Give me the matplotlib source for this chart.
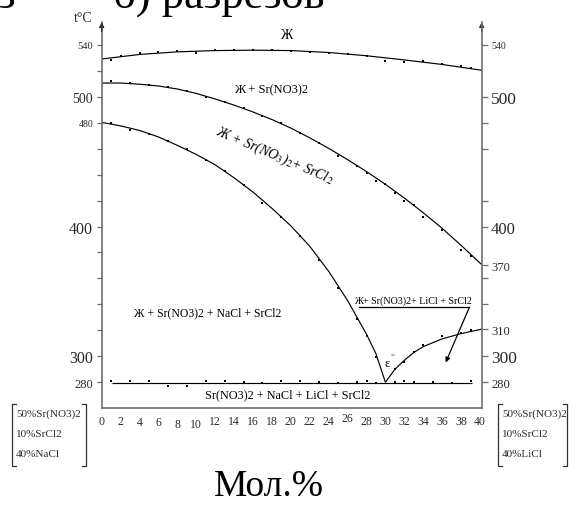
import matplotlib
matplotlib.use('Agg')
import matplotlib.pyplot as plt
from matplotlib.lines import Line2D

plt.rcParams['font.family'] = ['Liberation Serif', 'DejaVu Serif']
plt.rcParams['mathtext.fontset'] = 'stix'

# ---------------- data ----------------
# liquidus "Ж" (upper curve): drawn line nodes and measured points
liq_x = [0, 4, 8, 12, 16, 20, 24, 28, 32, 36, 40.2]
liq_T = [529, 532.5, 534.5, 535.5, 535.8, 535.5, 534, 531.5, 528.3, 524.8, 520.3]
liq_pts_x = [1, 2, 4, 6, 8, 10, 12, 14, 16, 18, 20, 22, 24, 26, 28, 30, 32, 34, 36, 38, 39]
liq_pts_T = [528.4, 531.5, 533.4, 534.6, 535.4, 533.4, 536.1, 536.1, 536.1, 536.1, 535.4,
             534.6, 533.8, 533.1, 531.5, 527.7, 526.4, 527.2, 525.4, 523.4, 522.1]

# Ж + Sr(NO3)2 boundary
c2_x = [0, 2, 4, 6, 8, 10, 12, 14, 16, 18, 20, 22, 24, 26, 28, 30, 32, 34, 36, 38, 40.2]
c2_T = [510.5, 510.5, 509.6, 508.2, 505.9, 502.5, 498.2, 493.5, 488.2, 482.4, 475.8,
        468.3, 460.2, 451.5, 442.3, 432.5, 421.9, 410.6, 398.6, 385.5, 370.5]
c2_pts_x = [1, 3, 5, 7, 9, 11, 13, 15, 17, 19, 21, 23, 25, 27, 28, 29, 30, 31, 32, 33, 34, 36, 38, 39]
c2_pts_T = [511.8, 510.7, 509.2, 507.4, 504.6, 500.0, 495.9, 491.0, 485.3, 479.4, 471.7,
            464.0, 454.5, 446.8, 441.2, 435.0, 432.7, 425.7, 419.4, 416.5, 407.0, 397.2,
            382.1, 377.0]

# Ж + Sr(NO3)2 + SrCl2 boundary (down to eutectic)
c3_x = [0, 2, 4, 6, 8, 10, 12, 14, 16, 18, 20, 22, 24, 26, 28, 29, 30]
c3_T = [480.2, 477.5, 474.0, 469.0, 462.5, 455.5, 447.5, 437.5, 426.5, 414.0, 400.5,
        384.8, 365.5, 343.0, 317.0, 302.0, 280.0]
c3_pts_x = [1, 3, 5, 7, 9, 11, 13, 15, 17, 19, 21, 23, 25, 27, 28, 29]
c3_pts_T = [479.7, 474.5, 471.4, 465.8, 459.4, 451.2, 442.9, 431.9, 418.3, 407.5,
            392.4, 374.1, 353.0, 328.4, 315.3, 299.2]

# Ж + Sr(NO3)2 + LiCl + SrCl2 boundary (from eutectic up)
c4_x = [30, 31, 32, 33, 34, 36, 38, 40.2]
c4_T = [280, 290, 297, 303, 307.5, 313.5, 317.5, 321]
c4_pts_x = [31, 32, 33, 34, 36, 38, 39]
c4_pts_T = [290.5, 295.3, 303.5, 308.8, 315.5, 317.7, 320.4]

# solidus line
sol_x = [1.1, 39.2]
sol_T = [279.5, 279.5]
sol_pts_x = [1, 3, 5, 7, 9, 11, 13, 15, 17, 19, 21, 23, 25, 27, 28, 29, 31, 32, 33, 35, 37, 39]
sol_pts_T = [281.1, 281.1, 281.1, 277.3, 277.3, 281.1, 281.1, 280.4, 279.4, 281.1, 281.1,
             280.4, 279.1, 280.4, 281.1, 279.4, 280.4, 281.1, 280.4, 280.4, 279.1, 281.1]

x_ticks = list(range(0, 41, 2))
x_labels = [str(v) for v in x_ticks]

left_ticks = [280, 300, 320, 340, 360, 380, 400, 420, 440, 460, 480, 500, 520, 540]
left_labels = ['280', '300', '', '', '', '', '400', '', '', '', '480', '500', '', '540']
right_ticks = [280, 300, 321, 340, 360, 370, 400, 420, 460, 480, 500, 540]
right_labels = ['280', '300', '310', '', '', '370', '400', '', '', '', '500', '540']

# ---------------- figure ----------------
W, H = 576, 506
fig = plt.figure(figsize=(W / 100, H / 100), dpi=100)
ax = fig.add_axes([101.7 / W, (H - 409.3) / H, 380 / W, (409.3 - 23) / H])
ax.set_xlim(0, 40.18)
ax.set_ylim(260, 557.5)

gray = '#6f6f6f'
tcol = '#2a2a2a'
for s in ['top', 'right']:
    ax.spines[s].set_visible(False)
for s in ['left', 'bottom']:
    ax.spines[s].set_color(gray)
    ax.spines[s].set_linewidth(1.2)

ax.set_xticks(x_ticks)
ax.set_xticklabels(x_labels)
ax.tick_params(axis='x', length=0, pad=4.5, labelsize=8.5, labelcolor=tcol)
pad_extra = {4: 0.8, 6: 0.8, 8: 2.2, 10: 2.6, 26: -2.0}
for t, v in zip(ax.xaxis.get_major_ticks(), x_ticks):
    t.set_pad(4.5 + pad_extra.get(v, 0))

ax.set_yticks(left_ticks)
ax.set_yticklabels(left_labels)
ax.tick_params(axis='y', direction='out', length=3.6, width=0.9, color=gray,
               pad=2.5, labelcolor=tcol)
lsize = {280: 9, 300: 11.5, 400: 11.5, 480: 7, 500: 10, 540: 7.5}
for lab, v in zip(ax.get_yticklabels(), left_ticks):
    lab.set_fontsize(lsize.get(v, 8))

ax2 = ax.twinx()
ax2.set_ylim(ax.get_ylim())
for s in ['top', 'left', 'bottom']:
    ax2.spines[s].set_visible(False)
ax2.spines['right'].set_color(gray)
ax2.spines['right'].set_linewidth(1.2)
ax2.set_yticks(right_ticks)
ax2.set_yticklabels(right_labels)
ax2.tick_params(axis='y', direction='out', length=4.2, width=0.9, color=gray,
                pad=2.5, labelcolor=tcol)
rsize = {280: 9, 300: 12.5, 321: 9, 370: 9, 400: 12, 500: 12.5, 540: 7}
for lab, v in zip(ax2.get_yticklabels(), right_ticks):
    lab.set_fontsize(rsize.get(v, 8))

# axis arrows
for xa in (0, 1):
    ax.annotate('', xy=(xa, 1.0), xycoords='axes fraction', xytext=(xa, 0.975),
                arrowprops=dict(arrowstyle='-|>', color='#333333', lw=1.0,
                                mutation_scale=7, shrinkA=0, shrinkB=0),
                annotation_clip=False)
fig.text(83 / W, 1 - 18 / H, 't\u00b0C', fontsize=10, ha='center', va='center', color=tcol)

# curves
lw = 0.85
ms = 1.8
for cx, cT, px, pT in [(liq_x, liq_T, liq_pts_x, liq_pts_T),
                       (c2_x, c2_T, c2_pts_x, c2_pts_T),
                       (c3_x, c3_T, c3_pts_x, c3_pts_T),
                       (c4_x, c4_T, c4_pts_x, c4_pts_T),
                       (sol_x, sol_T, sol_pts_x, sol_pts_T)]:
    ax.plot(cx, cT, color='black', lw=lw, solid_capstyle='butt')
    ax.plot(px, pT, ls='none', marker='s', ms=ms, color='black', mew=0)

# field labels
ax.text(19.47, 548.2, 'Ж', fontsize=10, ha='center', va='center')
ax.text(17.9, 505.9, 'Ж + Sr(NO3)2', fontsize=9, ha='center', va='center')
ax.text(18.3, 455.0, r'Ж + Sr(NO$_3$)$_2$+ SrCl$_2$', fontsize=10, style='italic',
        ha='center', va='center', rotation=-23, rotation_mode='anchor')
ax.text(11.24, 334.1, 'Ж + Sr(NO3)2 + NaCl + SrCl2', fontsize=8.5, ha='center', va='center')
ax.text(19.7, 270.5, 'Sr(NO3)2 + NaCl + LiCl + SrCl2', fontsize=8.8, ha='center', va='center')
ax.text(32.9, 339.6, 'Ж+ Sr(NO3)2+ LiCl + SrCl2', fontsize=7.2, ha='center', va='bottom')
ax.plot([27.24, 38.87], [337.7, 337.7], color='black', lw=0.9)
ax.annotate('', xy=(36.37, 295.3), xytext=(38.87, 337.7),
            arrowprops=dict(arrowstyle='-|>', color='black', lw=0.9,
                            mutation_scale=7, shrinkA=0, shrinkB=0))
ax.text(30.2, 294.8, 'ε', fontsize=9, ha='center', va='center')
ax.text(30.8, 301.9, '=', fontsize=5, ha='center', va='center')

# composition brackets
def bracket(x0, x1, y0, y1, lines):
    s = 4
    for xs, d in ((x0, 1), (x1, -1)):
        fig.add_artist(Line2D([(xs + d * s) / W, xs / W, xs / W, (xs + d * s) / W],
                              [1 - y0 / H, 1 - y0 / H, 1 - y1 / H, 1 - y1 / H],
                              color='#333333', lw=0.9))
    for i, t in enumerate(lines):
        fig.text((x0 + 4) / W, 1 - (414.5 + 20 * i) / H, t, fontsize=8,
                 ha='left', va='center', color=tcol)

comp_left = ['50%Sr(NO3)2', '10%SrCl2', '40%NaCl']
comp_right = ['50%Sr(NO3)2', '10%SrCl2', '40%LiCl']
bracket(12, 86, 405, 467, comp_left)
bracket(498, 567, 405, 467, comp_right)

fig.text(268.5 / W, 1 - 487 / H, 'Мол.%', fontsize=27, ha='center', va='center')

# cut-off heading at top (as in the reference)
fig.text(-2 / W, 1 - 8 / H, 'з', fontsize=32, ha='left', va='baseline')
fig.text(113 / W, 1 - 8 / H, 'б) разрезов', fontsize=32, ha='left', va='baseline')

fig.savefig('out.png', dpi=100)
